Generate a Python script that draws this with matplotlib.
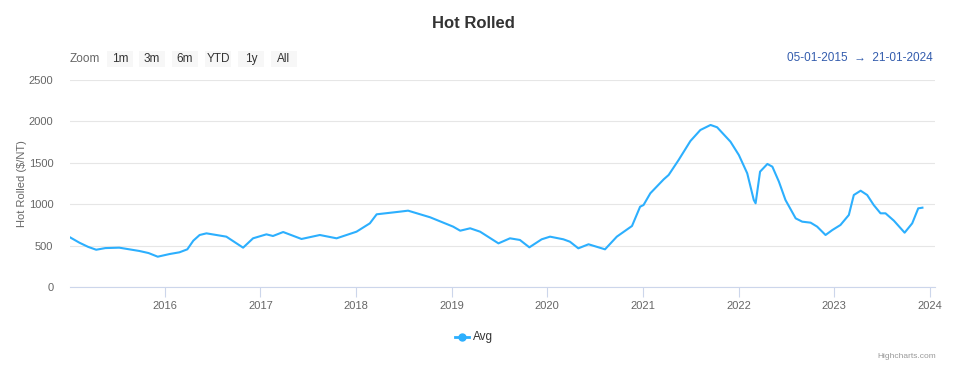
import pandas as pd
import matplotlib.pyplot as plt
import matplotlib.dates as mdates
from matplotlib.patches import Rectangle

plt.rcParams['font.family'] = ['Liberation Sans', 'DejaVu Sans']

dates = ["2015-01-05", "2015-02-10", "2015-03-15", "2015-04-15", "2015-05-20", "2015-07-12",
         "2015-09-27", "2015-11-01", "2015-12-06", "2016-01-20", "2016-02-27", "2016-03-28",
         "2016-04-20", "2016-05-14", "2016-06-09", "2016-08-24", "2016-10-27", "2016-12-04",
         "2017-01-24", "2017-02-18", "2017-03-29", "2017-06-07", "2017-08-16", "2017-10-19",
         "2018-01-03", "2018-02-23", "2018-03-21", "2018-06-18", "2018-07-19", "2018-10-11",
         "2019-01-07", "2019-02-03", "2019-03-13", "2019-04-20", "2019-06-29", "2019-08-12",
         "2019-09-19", "2019-10-25", "2019-12-11", "2020-01-12", "2020-03-03", "2020-03-28",
         "2020-04-29", "2020-06-07", "2020-08-09", "2020-09-23", "2020-11-20", "2020-12-21",
         "2021-01-03", "2021-01-29", "2021-03-21", "2021-04-09", "2021-05-17", "2021-07-01",
         "2021-08-08", "2021-09-16", "2021-10-11", "2021-12-01", "2022-01-02", "2022-02-03",
         "2022-02-28", "2022-03-07", "2022-03-24", "2022-04-21", "2022-05-10", "2022-06-04",
         "2022-06-29", "2022-08-07", "2022-09-01", "2022-10-03", "2022-10-28", "2022-11-29",
         "2022-12-25", "2023-01-25", "2023-02-26", "2023-03-17", "2023-04-12", "2023-05-07",
         "2023-06-01", "2023-06-27", "2023-07-16", "2023-08-17", "2023-09-27", "2023-10-26",
         "2023-11-18", "2023-12-04"]
avg = [600, 535, 485, 450, 470, 475,
       435, 410, 366, 398, 419, 455,
       560, 628, 648, 608, 475, 588,
       636, 616, 664, 580, 628, 588,
       668, 769, 878, 910, 922, 842,
       729, 680, 709, 668, 527, 588,
       568, 479, 576, 608, 576, 547,
       467, 516, 455, 608, 737, 970,
       990, 1132, 1300, 1353, 1534, 1763,
       1896, 1957, 1929, 1755, 1594, 1373,
       1051, 1011, 1393, 1486, 1453, 1272,
       1051, 829, 789, 777, 729, 628,
       688, 749, 870, 1111, 1163, 1111,
       990, 890, 890, 801, 656, 769,
       950, 958]
buttons = ["1m", "3m", "6m", "YTD", "1y", "All"]

W, H = 958, 378
dates = pd.to_datetime(dates)
fig = plt.figure(figsize=(W / 100, H / 100), dpi=100)
ax = fig.add_axes([70 / W, 1 - 287 / H, 865 / W, 207 / H])
ax.plot(dates, avg, color="#2caffe", lw=1.5)

ax.set_ylim(0, 2500)
ax.set_yticks([0, 500, 1000, 1500, 2000, 2500])
ax.set_xlim(pd.Timestamp("2015-01-05"), pd.Timestamp("2024-01-21"))
ax.xaxis.set_major_locator(mdates.YearLocator())
ax.xaxis.set_major_formatter(mdates.DateFormatter("%Y"))
ax.grid(axis="y", color="#e6e6e6", lw=0.8)
ax.set_axisbelow(True)
for s in ["top", "right", "left"]:
    ax.spines[s].set_visible(False)
ax.spines["bottom"].set_color("#ccd6eb")
ax.tick_params(axis="x", colors="#ccd6eb", labelcolor="#666666", labelsize=8, length=7, pad=3)
ax.tick_params(axis="y", length=0, labelcolor="#666666", labelsize=8, pad=12)
ax.set_ylabel("Hot Rolled (\\$/NT)", color="#666666", fontsize=8)
ax.yaxis.set_label_coords(-0.050, 0.5)

fig.text(0.494, 1 - 24 / H, "Hot Rolled", ha="center", va="center", fontsize=12,
         fontweight="bold", color="#333333")

# range selector
fig.text(70 / W, 1 - 59 / H, "Zoom", ha="left", va="center", fontsize=8.5, color="#666666")
bx = [120, 152, 185, 218, 251, 284]
for lab, x in zip(buttons, bx):
    fig.patches.append(Rectangle(((x - 13) / W, 1 - 67 / H), 26 / W, 16 / H,
                                 transform=fig.transFigure, fc="#f7f7f7", ec="none"))
    fig.text(x / W, 1 - 59 / H, lab, ha="center", va="center", fontsize=8.5, color="#333333")
fig.text(933 / W, 1 - 58 / H, "05-01-2015  \u2192  21-01-2024", ha="right", va="center",
         fontsize=8.5, color="#335cad")

# legend
fig.lines.append(plt.Line2D([455 / W, 469 / W], [1 - 337 / H] * 2, transform=fig.transFigure,
                            color="#2caffe", lw=2))
fig.lines.append(plt.Line2D([462 / W], [1 - 337 / H], transform=fig.transFigure,
                            color="#2caffe", marker="o", markersize=5, lw=0))
fig.text(473 / W, 1 - 337 / H, "Avg", ha="left", va="center", fontsize=8.5, color="#333333")
fig.text(936 / W, 1 - 356 / H, "Highcharts.com", ha="right", va="center", fontsize=6,
         color="#999999")

fig.savefig("out.png", dpi=100)
